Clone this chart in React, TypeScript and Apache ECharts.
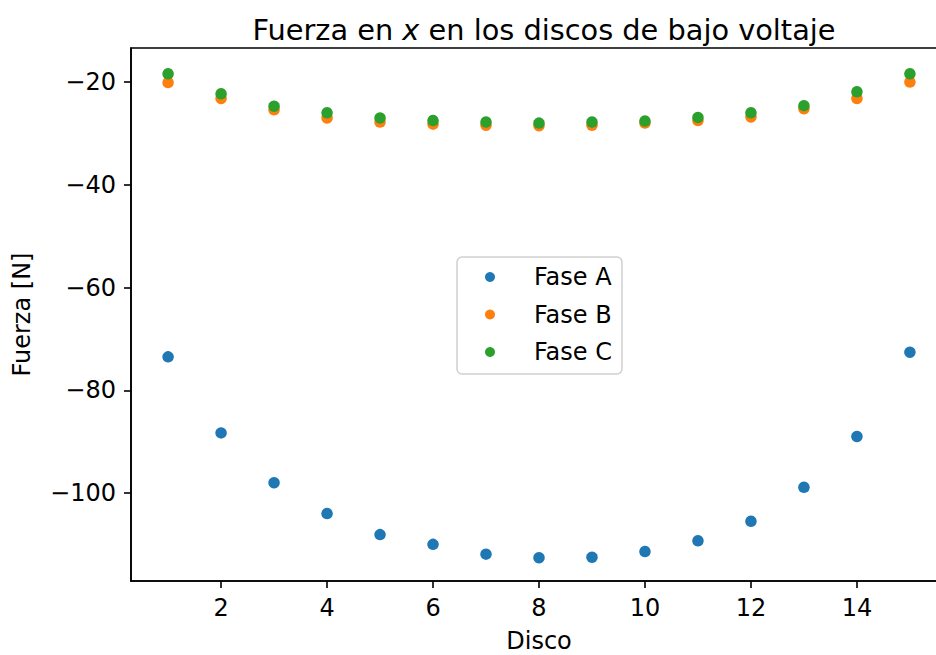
import React, { useEffect, useRef } from "react";
import * as echarts from "echarts";

const discos = [1, 2, 3, 4, 5, 6, 7, 8, 9, 10, 11, 12, 13, 14, 15];
const faseA = [-73.5, -88.3, -98.0, -104.0, -108.1, -110.0, -111.9, -112.6, -112.5, -111.4, -109.3, -105.5, -98.9, -89.0, -72.6];
const faseB = [-20.1, -23.2, -25.4, -27.0, -27.8, -28.2, -28.4, -28.5, -28.4, -28.0, -27.5, -26.8, -25.2, -23.2, -20.0];
const faseC = [-18.4, -22.3, -24.7, -26.0, -27.0, -27.5, -27.8, -28.0, -27.8, -27.6, -26.9, -26.0, -24.6, -21.9, -18.4];
const xTicks = [2, 4, 6, 8, 10, 12, 14];
const yTicks = [-100, -80, -60, -40, -20];

const FONT = "DejaVu Sans";
const FS = 24;

export default function App() {
  const ref = useRef<HTMLDivElement>(null);
  useEffect(() => {
    if (!ref.current) return;
    const chart = echarts.init(ref.current, null, { renderer: "svg" });
    const mk = (name: string, vals: number[], color: string) => ({
      name,
      type: "scatter",
      data: discos.map((d, i) => [d, vals[i]]),
      symbolSize: 11.5,
      itemStyle: { color, opacity: 1 },
    });
    chart.setOption({
      animation: false,
      backgroundColor: "#fff",
      textStyle: { fontFamily: FONT },
      title: {
        text: "{n|Fuerza en }{i|x}{n| en los discos de bajo voltaje}",
        left: 539,
        textAlign: "center",
        top: 10,
        textStyle: {
          fontWeight: "normal",
          rich: {
            n: { fontSize: 28.8, fontFamily: FONT, fontWeight: "normal", color: "#000" },
            i: { fontSize: 28.8, fontFamily: FONT, fontStyle: "italic", fontWeight: "normal", color: "#000" },
          },
        },
      },
      legend: {
        orient: "vertical",
        left: 457,
        top: 257,
        padding: [8, 10, 10, 28],
        itemWidth: 40,
        itemHeight: 10,
        itemGap: 13.5,
        icon: "circle",
        borderColor: "#d0d0d0",
        borderWidth: 1.5,
        borderRadius: 5,
        backgroundColor: "#fff",
        textStyle: { fontSize: FS, fontFamily: FONT, color: "#000", padding: [0, 0, 0, 19] },
        data: ["Fase A", "Fase B", "Fase C"],
      },
      grid: {
        left: 131,
        right: 13,
        top: 48,
        bottom: 74,
        containLabel: false,
        outerBoundsMode: "none",
        show: true,
        borderColor: "#000",
        borderWidth: 1.6,
        backgroundColor: "transparent",
      },
      xAxis: {
        type: "value",
        min: 0.3,
        max: 15.7,
        name: "Disco",
        nameLocation: "middle",
        nameGap: 48,
        nameTextStyle: { fontSize: FS, fontFamily: FONT, color: "#000" },
        axisLine: { onZero: false, lineStyle: { color: "#000", width: 1.6 } },
        axisTick: { show: true, length: 7, customValues: xTicks, lineStyle: { color: "#000", width: 1.6 } },
        axisLabel: { customValues: xTicks, fontSize: FS, fontFamily: FONT, color: "#000", margin: 15 },
        splitLine: { show: false },
      },
      yAxis: {
        type: "value",
        min: -117.13,
        max: -13.38,
        name: "Fuerza [N]",
        nameLocation: "middle",
        nameGap: 97,
        nameTextStyle: { fontSize: FS, fontFamily: FONT, color: "#000" },
        axisLine: { show: true, onZero: false, lineStyle: { color: "#000", width: 1.6 } },
        axisTick: { show: true, length: 7, customValues: yTicks, lineStyle: { color: "#000", width: 1.6 } },
        axisLabel: {
          customValues: yTicks,
          fontSize: FS,
          fontFamily: FONT,
          color: "#000",
          margin: 15,
          formatter: (v: number) => String(v).replace("-", "\u2212"),
        },
        splitLine: { show: false },
      },
      series: [mk("Fase A", faseA, "#1f77b4"), mk("Fase B", faseB, "#ff7f0e"), mk("Fase C", faseC, "#2ca02c")],
    });
    return () => chart.dispose();
  }, []);
  return (
    <div style={{ position: "fixed", left: 0, top: 0, width: 936, height: 655, overflow: "hidden", background: "#fff" }}>
      <div ref={ref} style={{ width: 960, height: 655 }} />
    </div>
  );
}
